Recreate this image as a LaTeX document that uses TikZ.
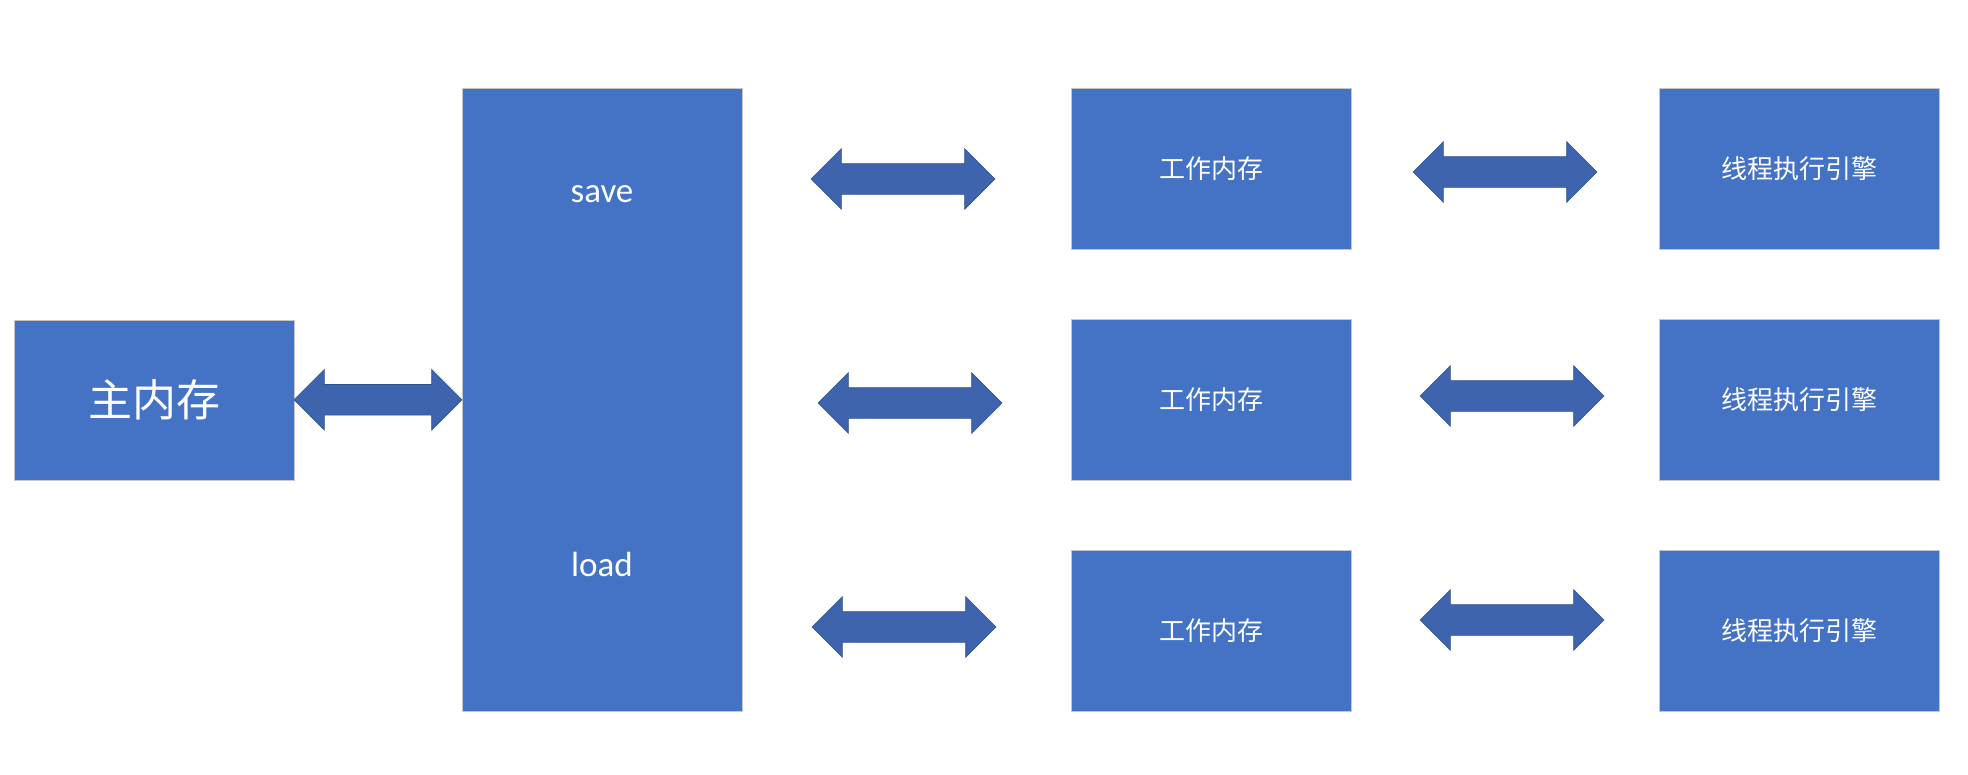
\documentclass[tikz,border=0pt]{standalone}
\usepackage{fontspec}
\setmainfont{Carlito}
\newfontfamily\cjk{Noto Sans CJK SC}
\usetikzlibrary{shapes.arrows,calc}
\definecolor{boxblue}{HTML}{4472C4}
\definecolor{arrowblue}{HTML}{3D64AD}
\definecolor{arrowline}{HTML}{2F528F}
\tikzset{
  box/.style={draw=gray!45, line width=1pt, fill=boxblue, text=white, inner sep=0pt,
    minimum width=280pt, minimum height=161pt},
  dbl/.style={double arrow, double arrow head extend=15pt, inner sep=0pt, inner ysep=15pt,
    minimum height=184pt, fill=arrowblue, draw=arrowline, line width=.6pt},
  cjksmall/.style={font=\cjk\fontsize{26}{30}\selectfont},
  latin/.style={text=white, font=\fontsize{35}{42}\selectfont}
}
\begin{document}
\begin{tikzpicture}[x=1pt,y=-1pt]
  \useasboundingbox (0,0) rectangle (1968,774);
  % main memory and the save/load bus
  \node[box, minimum height=160pt, font=\cjk\fontsize{44}{50}\selectfont] (main) at (154,400) {主内存};
  \node[box, minimum height=623pt] (bus) at (602,399.5) {};
  \node[latin] (save) at (602,194) {save};
  \node[latin] (load) at (602,564) {load};
  \node[dbl, minimum height=168pt] (mainarrow) at ($(main.east)!.5!(bus.west)$) {};
  % working memories and threads
  \foreach \i/\y in {1/168.5,2/399.5,3/630.5} {
    \node[box, cjksmall] (work\i) at (1211,\y) {工作内存};
    \node[box, cjksmall] (thread\i) at (1799,\y) {线程执行引擎};
  }
  \node[dbl] (busarrow1) at (903,179) {};
  \node[dbl] (busarrow2) at (910,403) {};
  \node[dbl] (busarrow3) at (904,627) {};
  \node[dbl] (workarrow1) at (1505,172) {};
  \node[dbl] (workarrow2) at (1512,396) {};
  \node[dbl] (workarrow3) at (1512,620) {};
\end{tikzpicture}
\end{document}
